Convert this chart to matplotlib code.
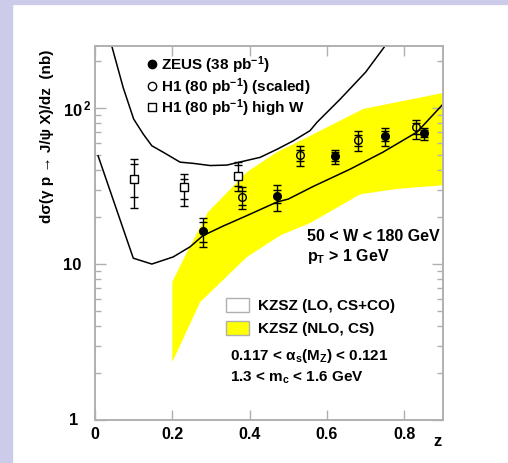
import numpy as np
import matplotlib.pyplot as plt
from matplotlib.patches import Rectangle
from matplotlib.ticker import NullLocator, LogLocator, NullFormatter

plt.rcParams['font.family'] = ['Liberation Sans', 'DejaVu Sans']
plt.rcParams['font.weight'] = 'bold'
plt.rcParams['mathtext.fontset'] = 'custom'
plt.rcParams['mathtext.rm'] = 'Liberation Sans:bold'
plt.rcParams['mathtext.it'] = 'Liberation Sans:bold'
plt.rcParams['mathtext.bf'] = 'Liberation Sans:bold'
plt.rcParams['mathtext.sf'] = 'Liberation Sans:bold'

# ZEUS (38 pb-1)
zeus_z = [0.28, 0.47, 0.62, 0.75, 0.85]
zeus_y = [16.3, 27.4, 49.0, 66.4, 69.0]
zeus_tot_up = [19.7, 32.1, 54.0, 75.0, 75.0]
zeus_tot_dn = [12.8, 22.0, 43.8, 57.0, 62.0]
zeus_stat_up = [18.6, 30.0, 52.0, 71.0, 72.5]
zeus_stat_dn = [13.8, 24.5, 46.0, 61.5, 65.0]

# H1 (80 pb-1) scaled
h1_z = [0.38, 0.53, 0.68, 0.83]
h1_y = [26.8, 50.2, 62.6, 75.2]
h1_tot_up = [31.0, 57.3, 71.6, 84.0]
h1_tot_dn = [22.5, 42.7, 53.2, 63.0]
h1_stat_up = [29.5, 54.0, 67.5, 80.0]
h1_stat_dn = [24.0, 46.0, 57.5, 68.0]

# H1 (80 pb-1) high W
h1w_z = [0.10, 0.23, 0.37]
h1w_y = [35.1, 31.3, 36.8]
h1w_tot_up = [47.0, 37.8, 44.9]
h1w_tot_dn = [22.8, 23.6, 29.5]
h1w_stat_up = [43.8, 35.1, 43.1]
h1w_stat_dn = [26.8, 26.1, 31.8]

# KZSZ LO (CS+CO) curves
lo_high_z = [0.03, 0.073, 0.10, 0.125, 0.147, 0.177, 0.22, 0.254, 0.298, 0.341,
             0.375, 0.427, 0.47, 0.513, 0.556, 0.574, 0.634, 0.70, 0.76]
lo_high_y = [330, 135, 85, 68, 57.3, 52, 45, 44.2, 42.8, 43.1,
             45.1, 48.3, 54.3, 61.7, 71.6, 81, 114, 170, 270]
lo_low_z = [0.008, 0.099, 0.147, 0.202, 0.246, 0.279, 0.331, 0.392, 0.471, 0.50,
            0.565, 0.66, 0.745, 0.833, 0.90]
lo_low_y = [49.4, 10.9, 10.0, 11.1, 12.9, 15.2, 17.5, 20.4, 25.0, 26.1,
            31.5, 40.6, 52.2, 70.2, 106]

# KZSZ NLO (CS) band
nlo_hi_z = [0.2, 0.238, 0.292, 0.393, 0.471, 0.556, 0.693, 0.9]
nlo_hi_y = [7.7, 11.9, 21.5, 38.9, 52.2, 66.2, 98.6, 125]
nlo_lo_z = [0.2, 0.272, 0.393, 0.48, 0.556, 0.686, 0.78, 0.9]
nlo_lo_y = [2.35, 5.7, 11.1, 15.3, 18.3, 28.0, 30.3, 32.0]

ytick_vals = [1, 10, 100]
xtick_vals = [0, 0.2, 0.4, 0.6, 0.8]
xtick_labels = ['0', '0.2', '0.4', '0.6', '0.8']

gray = '#b0b0b0'
fig = plt.figure(figsize=(5.08, 4.64), dpi=100)
fig.patches.append(Rectangle((0, 0), 12 / 508, 1, transform=fig.transFigure,
                             color='#ccccea', zorder=0))
fig.patches.append(Rectangle((0, 1 - 5 / 464), 1, 5 / 464, transform=fig.transFigure,
                             color='#ccccea', zorder=0))

ax = fig.add_axes([95 / 508, 1 - 421 / 464, 348 / 508, 374 / 464])
ax.set_yscale('log')
ax.set_xlim(0, 0.9)
ax.set_ylim(1, 250)

ax.fill(np.concatenate([nlo_hi_z, nlo_lo_z[::-1]]),
        np.concatenate([nlo_hi_y, nlo_lo_y[::-1]]),
        color='#ffff00', lw=0, zorder=1)
ax.plot(lo_high_z, lo_high_y, color='black', lw=1.1, zorder=2)
ax.plot(lo_low_z, lo_low_y, color='black', lw=1.1, zorder=2)


def draw_points(z, y, tot_up, tot_dn, stat_up, stat_dn, marker, face):
    z = np.array(z)
    y = np.array(y)
    yerr = [y - np.array(tot_dn), np.array(tot_up) - y]
    ax.errorbar(z, y, yerr=yerr, fmt='none', ecolor='black', elinewidth=1,
                capsize=3, capthick=1, zorder=3)
    ax.plot(z, stat_up, ls='none', marker='_', ms=6, mew=1, color='black', zorder=3)
    ax.plot(z, stat_dn, ls='none', marker='_', ms=6, mew=1, color='black', zorder=3)
    ax.plot(z, y, ls='none', marker=marker, ms=5.5, mew=1, mec='black', mfc=face, zorder=4)


draw_points(zeus_z, zeus_y, zeus_tot_up, zeus_tot_dn, zeus_stat_up, zeus_stat_dn, 'o', 'black')
draw_points(h1_z, h1_y, h1_tot_up, h1_tot_dn, h1_stat_up, h1_stat_dn, 'o', 'none')
draw_points(h1w_z, h1w_y, h1w_tot_up, h1w_tot_dn, h1w_stat_up, h1w_stat_dn, 's', 'white')

# axes frame and ticks
for sp in ax.spines.values():
    sp.set_color(gray)
    sp.set_linewidth(1.4)
ax.set_xticks(xtick_vals)
ax.set_xticklabels(xtick_labels, fontsize=11.5, fontweight='bold')
ax.xaxis.set_minor_locator(NullLocator())
ax.yaxis.set_major_locator(LogLocator(base=10, subs=(1.0,)))
ax.yaxis.set_minor_locator(LogLocator(base=10, subs=np.arange(2, 10)))
ax.yaxis.set_major_formatter(NullFormatter())
ax.yaxis.set_minor_formatter(NullFormatter())
ax.tick_params(axis='x', which='major', direction='in', length=7, width=1,
               color=gray, top=True, pad=4)
ax.tick_params(axis='y', which='major', direction='in', length=8, width=1,
               color=gray, right=True)
ax.tick_params(axis='y', which='minor', direction='in', length=4, width=1,
               color=gray, right=True)

# y tick labels
ylab_tr = ax.get_yaxis_transform()
ax.text(-0.048, ytick_vals[0], '1', transform=ylab_tr, ha='right', va='center',
        fontsize=12, fontweight='bold')
ax.text(-0.04, ytick_vals[1], '10', transform=ylab_tr, ha='right', va='center',
        fontsize=12, fontweight='bold')
ax.text(-0.092, ytick_vals[2], r'10$^{\,2}$', transform=ylab_tr, ha='left', va='center',
        fontsize=12, fontweight='bold')

fig.text(438 / 508, 1 - 441 / 464, 'z', ha='center', va='center',
         fontsize=12, fontweight='bold')
fig.text(47 / 508, 1 - 50 / 464, 'dσ(γ p → J/ψ X)/dz  (nb)', rotation=90,
         ha='center', va='top', fontsize=11, fontweight='bold')

# data legend
leg_rows = [0.952, 0.893, 0.837]
leg_text = [r'ZEUS (38 pb$^{-1}$)', r'H1 (80 pb$^{-1}$) (scaled)', r'H1 (80 pb$^{-1}$) high W']
leg_mark = [('o', 'black'), ('o', 'none'), ('s', 'none')]
for yy, txt, (m, f) in zip(leg_rows, leg_text, leg_mark):
    ax.plot([0.165], [yy], transform=ax.transAxes, marker=m, ms=6, mew=1,
            mec='black', mfc=f, ls='none', clip_on=False, zorder=5)
    ax.text(0.19, yy, txt, transform=ax.transAxes, ha='left', va='center',
            fontsize=11, fontweight='bold')

ax.text(0.608, 0.493, '50 < W < 180 GeV', transform=ax.transAxes, ha='left',
        va='center', fontsize=11.5, fontweight='bold')
ax.text(0.608, 0.439, r'p$_{\mathregular{T}}$ > 1 GeV', transform=ax.transAxes, ha='left',
        va='center', fontsize=11.5, fontweight='bold')

# theory legend
ax.add_patch(Rectangle((0.376, 0.288), 0.067, 0.037, transform=ax.transAxes,
                       facecolor='white', edgecolor=gray, lw=1, zorder=5))
ax.text(0.469, 0.307, 'KZSZ (LO, CS+CO)', transform=ax.transAxes, ha='left',
        va='center', fontsize=11, fontweight='bold')
ax.add_patch(Rectangle((0.376, 0.228), 0.067, 0.036, transform=ax.transAxes,
                       facecolor='#ffff00', edgecolor=gray, lw=1, zorder=5))
ax.text(0.469, 0.246, 'KZSZ (NLO, CS)', transform=ax.transAxes, ha='left',
        va='center', fontsize=11, fontweight='bold')
ax.text(0.388, 0.174, r'0.117 < $\mathregular{α_s(M_Z)}$ < 0.121', transform=ax.transAxes,
        ha='left', va='center', fontsize=11, fontweight='bold')
ax.text(0.388, 0.115, r'1.3 < m$_{\mathregular{c}}$ < 1.6 GeV', transform=ax.transAxes,
        ha='left', va='center', fontsize=11, fontweight='bold')

fig.savefig('out.png', dpi=100)
